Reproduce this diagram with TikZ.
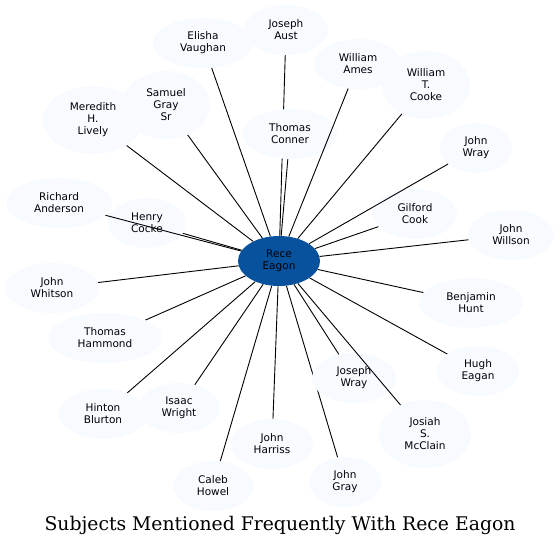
\documentclass[tikz,border=0pt]{standalone}
\usepackage{fontspec}
\newfontfamily\namefont{DejaVu Sans}
\newfontfamily\titlefont{DejaVu Serif}
\usepackage{xcolor}
\usetikzlibrary{shapes.geometric}
\pgfdeclarelayer{back}
\pgfsetlayers{back,main}
\definecolor{paleblue}{HTML}{F7FBFF}
\definecolor{deepblue}{HTML}{08519C}

\begin{document}
\begin{tikzpicture}[
    x=1pt, y=-1pt,
    person/.style={
        ellipse, 
        fill=paleblue, 
        inner sep=0pt, 
        minimum height=50, 
        align=center, 
        font=\namefont\fontsize{10.5}{12}\selectfont % same size on every name
    },
    tallperson/.style={
        person, 
        minimum height=68
    },
    hub/.style={
        person, 
        fill=deepblue
    },
    link/.style={
        line width=0.9pt
    }
]
\useasboundingbox (0,0) rectangle (560,547);

% Centre
\node (rece) at (279,261) [hub, minimum width=82] {Rece\\Eagon};

% Upper half
\node (aust)     at (286,30)  [person, minimum width=84]      {Joseph\\Aust};
\node (vaughan)  at (203,43)  [person, minimum width=100]     {Elisha\\Vaughan};
\node (ames)     at (358,64)  [person, minimum width=88]      {William\\Ames};
\node (cooke)    at (426,85)  [tallperson, minimum width=88]  {William\\T.\\Cooke};
\node (grey)     at (166,105) [tallperson, minimum width=88]  {Samuel\\Gray\\Sr};
\node (lively)   at (93,120)  [tallperson, minimum width=100] {Meredith\\H.\\Lively};
\node (conner)   at (290,134) [person, minimum width=94]      {Thomas\\Conner};
\node (jwray)    at (476,148) [person, minimum width=72]      {John\\Wray};
\node (gilford)  at (415,214) [person, minimum width=84]      {Gilford\\Cook};
\node (willson)  at (511,235) [person, minimum width=86]      {John\\Willson};
\node (anderson) at (59,203)  [person, minimum width=106]     {Richard\\Anderson};
\node (cocke)    at (147,223) [person, minimum width=78]      {Henry\\Cocke};

% Lower half
\node (whitson)  at (52,288)  [person, minimum width=94]      {John\\Whitson};
\node (hammond)  at (105,338) [person, minimum width=114]     {Thomas\\Hammond};
\node (hunt)     at (471,303) [person, minimum width=104]     {Benjamin\\Hunt};
\node (hugh)     at (478,371) [person, minimum width=82]      {Hugh\\Eagan};
\node (joswray)  at (354,378) [person, minimum width=84]      {Joseph\\Wray};
\node (blurton)  at (103,414) [person, minimum width=88]      {Hinton\\Blurton};
\node (wright)   at (179,408) [person, minimum width=82]      {Isaac\\Wright};
\node (harriss)  at (272,444) [person, minimum width=82]      {John\\Harriss};
\node (mcclain)  at (425,434) [tallperson, minimum width=92]  {Josiah\\S.\\McClain};
\node (howel)    at (213,486) [person, minimum width=80]      {Caleb\\Howel};
\node (jgray)    at (345,482) [person, minimum width=72]      {John\\Gray};

% Title
\node (title) at (280,525) [font=\titlefont\fontsize{18.8}{20}\selectfont] {Subjects Mentioned Frequently With Rece Eagon};

% Links that run behind the other names
\begin{pgfonlayer}{back}
\draw [link] (rece) -- (aust);
\draw [link] (rece) -- (vaughan);
\draw [link] (rece) -- (cooke);
\draw [link] (rece) -- (grey);
\draw [link] (rece) -- (lively);
\draw [link] (rece) -- (conner);
\draw [link] (rece) -- (gilford);
\draw [link] (rece) -- (willson);
\draw [link] (rece) -- (cocke);
\draw [link] (rece) -- (whitson);
\draw [link] (rece) -- (hammond);
\draw [link] (rece) -- (hunt);
\draw [link] (rece) -- (hugh);
\draw [link] (rece) -- (joswray);
\draw [link] (rece) -- (blurton);
\draw [link] (rece) -- (wright);
\draw [link] (rece) -- (harriss);
\draw [link] (rece) -- (howel);
\draw [link] (rece) -- (jgray);
\end{pgfonlayer}

% Links drawn over the names they cross
\draw [link] (rece) -- (ames);
\draw [link] (rece) -- (jwray);
\draw [link] (rece) -- (anderson);
\draw [link] (rece) -- (mcclain);

\end{tikzpicture}
\end{document}
